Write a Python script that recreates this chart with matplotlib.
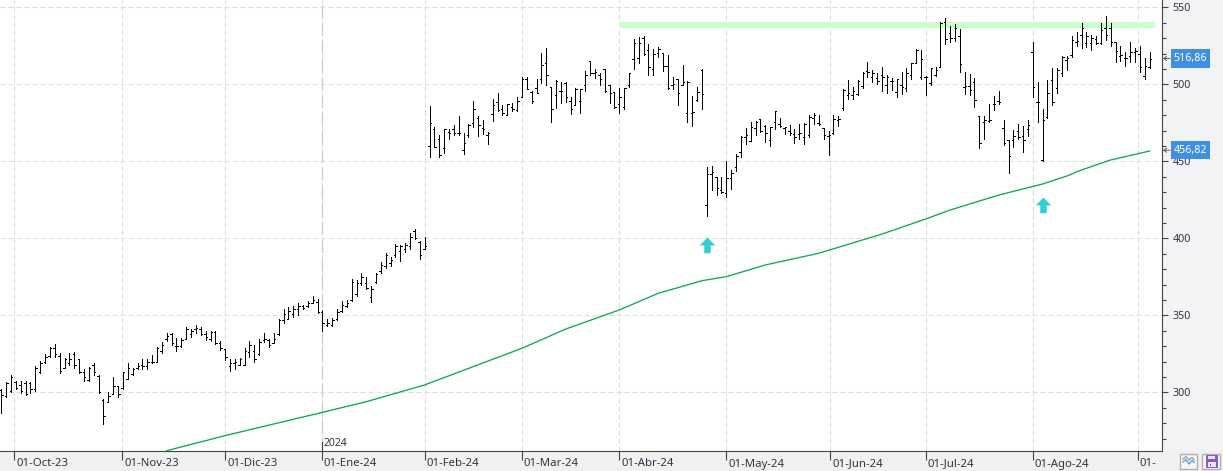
import matplotlib
matplotlib.use("Agg")
import matplotlib.pyplot as plt
from matplotlib.patches import Rectangle
from matplotlib.path import Path
from matplotlib.ticker import MultipleLocator
from matplotlib.transforms import ScaledTranslation

W, H = 1223, 471
plt.rcParams['font.family'] = ['Noto Sans', 'DejaVu Sans']

highs = [302.1, 306.8, 311.2, 307.7, 307.3, 307.3, 306.8, 317.2, 320.7, 325.0,
         329.4, 331.5, 325.5, 322.4, 325.5, 326.3, 322.0, 315.5, 316.8, 319.0,
         311.2, 295.6, 300.3, 309.9, 304.2, 313.3, 319.0, 315.9, 319.4, 321.6,
         321.6, 324.6, 329.4, 332.8, 338.4, 338.9, 335.4, 335.4, 342.3, 341.0,
         343.6, 342.3, 340.2, 340.2, 340.1, 333.6, 327.6, 321.5, 322.0, 322.4,
         328.6, 333.6, 331.0, 334.9, 338.8, 334.5, 338.8, 347.9, 354.0, 355.3,
         356.1, 357.9, 357.0, 359.2, 362.6, 360.5, 353.5, 347.9, 348.3, 354.0,
         359.2, 360.0, 373.5, 373.0, 377.4, 374.8, 369.1, 377.8, 384.7, 390.4,
         387.8, 396.4, 396.0, 396.8, 403.3, 406.4, 398.6, 400.7, 486.0, 472.2,
         467.0, 471.3, 470.9, 473.5, 479.5, 468.7, 474.3, 489.5, 479.5, 477.0,
         469.2, 490.4, 494.3, 486.5, 487.3, 487.8, 491.7, 504.7, 504.7, 495.6,
         503.4, 520.2, 523.7, 498.2, 502.9, 501.6, 501.6, 491.7, 497.7, 496.9,
         508.6, 515.0, 510.3, 507.3, 509.9, 499.9, 495.1, 497.7, 497.7, 507.3,
         529.8, 530.6, 531.5, 526.3, 522.8, 524.1, 520.2, 519.0, 504.7, 503.4,
         512.4, 502.1, 492.5, 498.6, 509.9, 446.6, 447.1, 440.1, 440.1, 450.1,
         444.5, 454.9, 466.6, 471.8, 475.6, 476.5, 477.8, 473.5, 472.6, 483.0,
         478.2, 472.2, 473.5, 470.9, 474.4, 474.8, 480.4, 481.3, 480.4, 471.8,
         469.6, 480.0, 479.5, 496.9, 502.9, 498.6, 502.9, 508.1, 514.6, 509.4,
         507.7, 511.2, 506.0, 504.2, 503.8, 508.1, 510.7, 513.7, 522.8, 522.4,
         505.5, 510.7, 511.6, 540.8, 543.0, 537.7, 539.0, 536.0, 507.9, 506.6,
         504.0, 479.3, 479.3, 487.1, 492.3, 495.7, 476.7, 463.7, 470.2, 474.1,
         472.8, 476.7, 527.4, 501.4, 484.1, 502.7, 510.5, 510.5, 518.3, 518.3,
         531.2, 534.3, 539.9, 533.8, 532.1, 531.7, 539.9, 544.2, 539.9, 527.8,
         524.8, 521.3, 527.4, 523.9, 525.2, 517.0, 521.3]
lows = [286.9, 297.3, 300.3, 302.0, 299.9, 298.6, 299.9, 301.2, 312.5, 319.4,
        323.3, 323.3, 312.9, 315.9, 317.7, 315.9, 312.5, 307.3, 307.7, 311.6,
        299.5, 279.6, 293.8, 299.0, 297.3, 302.1, 308.6, 311.6, 315.0, 315.5,
        315.0, 319.4, 319.8, 325.9, 333.7, 330.6, 326.8, 329.8, 334.5, 336.3,
        338.4, 337.1, 334.1, 333.7, 331.5, 327.6, 321.1, 314.2, 315.5, 317.7,
        317.9, 323.3, 320.0, 324.4, 333.0, 329.3, 331.9, 337.3, 345.3, 347.9,
        349.2, 350.5, 354.0, 355.3, 357.9, 351.8, 340.1, 343.2, 343.2, 347.0,
        352.2, 355.3, 359.2, 362.6, 370.0, 367.4, 358.7, 371.3, 377.8, 380.8,
        382.1, 388.2, 385.6, 391.2, 393.4, 399.9, 386.9, 393.4, 453.1, 459.2,
        453.1, 455.7, 464.8, 467.4, 467.0, 454.9, 466.1, 472.2, 466.6, 467.9,
        461.4, 476.1, 482.6, 480.4, 480.0, 482.6, 482.6, 491.7, 496.9, 488.2,
        494.3, 501.2, 499.5, 475.6, 484.7, 487.8, 488.6, 480.8, 486.9, 481.3,
        495.6, 506.0, 504.2, 499.9, 495.1, 488.2, 484.7, 481.7, 484.3, 498.6,
        510.3, 514.2, 519.0, 506.4, 506.0, 517.6, 509.0, 497.3, 497.3, 486.9,
        499.5, 475.6, 473.1, 489.5, 484.3, 414.6, 431.5, 428.4, 429.8, 427.2,
        432.3, 444.0, 453.1, 461.4, 463.1, 467.4, 469.2, 462.7, 460.1, 471.3,
        472.6, 467.9, 467.0, 462.2, 464.8, 461.4, 466.1, 474.4, 473.9, 464.8,
        454.4, 467.9, 473.0, 483.4, 490.8, 490.4, 493.4, 497.7, 504.7, 501.6,
        500.3, 496.0, 494.7, 496.4, 492.1, 493.8, 495.6, 503.8, 513.7, 503.8,
        493.4, 499.5, 505.5, 511.3, 526.0, 527.8, 528.2, 508.3, 494.0, 493.1,
        485.4, 458.9, 464.6, 475.8, 483.6, 487.5, 460.7, 442.5, 459.4, 464.6,
        456.3, 466.7, 491.8, 475.8, 450.3, 478.0, 486.7, 494.4, 505.7, 509.6,
        517.8, 524.8, 523.9, 524.3, 522.6, 526.0, 526.5, 528.7, 525.2, 514.8,
        515.2, 512.2, 514.8, 514.8, 507.9, 503.5, 510.9]
opens = [301.5, 298.0, 301.0, 307.0, 305.0, 306.0, 306.0, 302.0, 313.0, 320.0,
         324.0, 329.0, 324.0, 316.0, 319.0, 325.0, 322.0, 313.0, 308.0, 318.0,
         311.0, 295.0, 294.0, 299.0, 304.0, 303.0, 309.0, 312.0, 316.0, 318.0,
         317.0, 320.0, 320.0, 327.0, 335.0, 338.0, 330.0, 330.0, 335.0, 338.0,
         341.0, 341.0, 338.0, 335.0, 339.0, 332.0, 328.0, 317.0, 319.0, 318.0,
         318.0, 326.0, 327.0, 325.0, 334.0, 334.0, 332.0, 338.0, 347.0, 348.0,
         351.0, 354.0, 356.0, 356.0, 358.0, 359.0, 352.0, 344.0, 344.0, 348.0,
         353.0, 356.0, 360.0, 364.0, 371.0, 371.0, 362.0, 372.0, 379.0, 382.0,
         384.0, 389.0, 392.0, 393.0, 395.0, 405.0, 398.0, 393.0, 460.0, 471.0,
         464.8, 458.5, 469.0, 471.0, 468.3, 457.5, 467.2, 475.2, 478.2, 471.5,
         467.2, 480.8, 488.6, 483.9, 480.4, 485.6, 483.4, 492.1, 503.8, 495.1,
         497.5, 503.4, 514.2, 498.2, 493.4, 495.6, 501.2, 489.5, 486.7, 489.3,
         499.5, 515.0, 507.3, 506.4, 509.9, 499.5, 495.1, 487.3, 485.2, 499.5,
         516.3, 517.2, 530.0, 522.4, 509.9, 520.7, 520.2, 512.0, 499.7, 503.4,
         499.7, 481.7, 481.7, 490.0, 509.4, 421.5, 441.7, 439.7, 431.5, 429.3,
         439.1, 446.2, 456.2, 466.1, 463.5, 471.8, 477.4, 473.0, 464.0, 475.6,
         474.4, 471.5, 470.0, 467.9, 467.9, 465.7, 467.4, 478.0, 474.8, 471.5,
         466.6, 468.3, 477.0, 484.5, 493.0, 493.0, 493.8, 499.0, 509.0, 505.1,
         504.0, 506.2, 499.7, 502.5, 495.4, 499.5, 497.5, 506.2, 513.7, 504.7,
         504.7, 500.8, 506.2, 511.6, 540.3, 533.4, 530.4, 531.2, 498.3, 499.0,
         501.4, 479.3, 475.8, 476.3, 487.1, 489.2, 471.9, 463.7, 463.9, 470.0,
         466.7, 471.0, 520.9, 488.8, 451.1, 479.0, 502.7, 497.5, 507.2, 515.9,
         519.1, 527.8, 532.1, 526.7, 526.7, 529.5, 527.1, 536.9, 536.9, 527.4,
         518.7, 517.4, 518.7, 521.3, 519.6, 505.7, 511.5]
closes = [298.5, 306.0, 310.0, 303.0, 301.0, 299.0, 302.0, 316.0, 319.0, 323.0,
          329.0, 325.0, 314.0, 322.0, 322.0, 318.0, 313.0, 310.0, 316.0, 313.0,
          300.0, 285.0, 298.0, 304.0, 299.0, 313.0, 316.0, 315.0, 317.0, 317.0,
          320.0, 320.0, 329.0, 331.0, 337.0, 332.0, 330.0, 334.0, 341.0, 340.0,
          342.0, 338.0, 336.0, 339.0, 332.0, 329.0, 323.0, 319.0, 320.0, 322.0,
          327.0, 331.0, 322.0, 333.0, 335.0, 331.0, 335.0, 347.0, 351.0, 353.0,
          354.0, 356.0, 355.0, 358.0, 360.0, 352.0, 345.0, 345.0, 347.0, 352.0,
          357.0, 358.0, 372.0, 371.0, 375.0, 368.0, 367.0, 377.0, 383.0, 389.0,
          386.0, 395.0, 395.0, 396.0, 401.0, 400.0, 389.0, 395.0, 474.8, 459.2,
          454.2, 471.3, 468.3, 468.3, 468.7, 461.8, 473.9, 483.9, 473.7, 470.9,
          468.7, 486.5, 483.4, 481.3, 487.3, 483.9, 489.5, 503.8, 497.3, 489.5,
          494.7, 512.7, 506.2, 483.9, 502.5, 495.6, 491.7, 483.9, 497.3, 496.9,
          506.0, 507.7, 508.3, 503.4, 496.0, 494.3, 485.6, 492.1, 497.7, 507.3,
          526.7, 527.2, 519.8, 511.6, 519.8, 522.8, 512.0, 497.7, 500.3, 494.3,
          501.8, 501.8, 482.1, 495.3, 493.8, 441.7, 443.2, 432.6, 430.4, 439.1,
          442.3, 453.6, 466.1, 467.2, 472.6, 475.9, 469.6, 468.7, 472.6, 482.6,
          473.0, 472.2, 468.7, 465.7, 468.3, 474.4, 479.1, 480.2, 474.4, 467.0,
          467.2, 477.8, 477.4, 496.4, 494.3, 496.0, 502.5, 507.7, 508.3, 507.3,
          502.5, 505.1, 504.7, 502.5, 503.4, 498.6, 507.3, 513.7, 522.4, 516.4,
          504.7, 510.5, 509.4, 539.7, 529.3, 530.0, 536.4, 513.0, 499.0, 496.4,
          489.9, 461.8, 476.9, 476.9, 487.5, 488.4, 461.8, 453.7, 466.5, 465.6,
          463.7, 473.7, 498.3, 488.4, 476.9, 494.2, 488.8, 509.4, 518.0, 517.4,
          528.9, 528.2, 536.9, 531.7, 530.0, 527.1, 535.1, 532.1, 527.8, 521.7,
          519.1, 517.4, 521.3, 521.7, 511.5, 512.2, 516.86]

ma_bars = [34, 46, 66, 75, 87, 107, 116, 127, 135, 144, 149, 157, 168, 181, 190,
           195, 205, 214, 219, 222, 228, 236]
ma_vals = [262.2, 272.0, 287.1, 294.0, 304.9, 328.7, 341.2, 353.6, 364.4, 372.6,
           375.2, 382.8, 390.4, 402.9, 412.7, 418.5, 428.2, 435.4, 440.6, 444.5,
           451.0, 456.82]

month_bars = [2.67, 24.9, 46, 65.9, 87, 107, 127, 149, 170.4, 190, 212, 233.5]
month_labels = ['01-Oct-23', '01-Nov-23', '01-Dic-23', '01-Ene-24', '01-Feb-24', '01-Mar-24',
                '01-Abr-24', '01-May-24', '01-Jun-24', '01-Jul-24', '01-Ago-24', '01-']
price_ticks = [300, 350, 400, 450, 500, 550]
last_values = [516.86, 456.82]
band_low, band_high = 536.7, 540.6
band_bars = [126.9, 237.1]
arrow_bars = [145, 214]
arrow_prices = [396, 422]

fig = plt.figure(figsize=(W / 100, H / 100), dpi=100, facecolor='#f0f0f0')
# right panel is a touch bluer than the strip below
fig.add_artist(Rectangle((1161 / W, 20 / H), 62 / W, 451 / H, transform=fig.transFigure,
                         fc='#f2f3f5', ec='none', zorder=-1))

ax = fig.add_axes([0, 20 / H, 1161.5 / W, 451 / H], facecolor='white')
ax.set_xlim(-0.267, 238.43)
ax.set_ylim(262.0, 554.87)

for s in ['top', 'left']:
    ax.spines[s].set_visible(False)
for s in ['right', 'bottom']:
    ax.spines[s].set_color('#444444')
    ax.spines[s].set_linewidth(0.8)

ax.yaxis.tick_right()
ax.set_yticks(price_ticks)
ax.set_yticklabels([str(p) for p in price_ticks], fontsize=7.7, color='#333344')
ax.yaxis.set_minor_locator(MultipleLocator(10))
ax.tick_params(axis='y', which='major', length=4.3, width=0.8, color='#444444', pad=3.6)
ax.tick_params(axis='y', which='minor', length=2.9, width=0.8, color='#444444')

ax.set_xticks(month_bars)
ax.set_xticklabels(month_labels, fontsize=8.2, color='#333344', ha='left')
ax.tick_params(axis='x', length=6.8, width=0.8, color='#444444', pad=-1.4)
for lab in ax.get_xticklabels():
    lab.set_transform(lab.get_transform() + ScaledTranslation(2 / 100, 0, fig.dpi_scale_trans))

ax.grid(True, which='major', color='#dddddd', linestyle=(0, (4.5, 2.7)), linewidth=0.8)
ax.set_axisbelow(True)

# year change marker
ax.axvline(month_bars[3], color='#cfcfcf', linestyle=(0, (9.4, 3.6)), linewidth=1.0, zorder=1)
ax.plot([month_bars[3], month_bars[3]], [262.0, 268.0], color='#444444', linewidth=0.8, zorder=2)
ax.text(month_bars[3] + 0.35, 266.9, '2024', fontsize=7.5, color='#333344', ha='left', va='center')

ax.add_patch(Rectangle((band_bars[0], band_low), band_bars[1] - band_bars[0], band_high - band_low,
                       fc='#ccffcc', ec='none', zorder=1.5))

ax.plot(ma_bars, ma_vals, color='#0aaa55', linewidth=0.95, zorder=2)

bars = list(range(len(highs)))
lw_bar = 0.7
ax.vlines(bars, lows, highs, color='black', linewidth=lw_bar, zorder=3, antialiased=False)
ax.hlines(opens, [b - 0.3 for b in bars], bars, color='black', linewidth=lw_bar, zorder=3, antialiased=False)
ax.hlines(closes, bars, [b + 0.3 for b in bars], color='black', linewidth=lw_bar, zorder=3, antialiased=False)

up_arrow = Path([(0, 1), (1, 0.02), (0.42, 0.02), (0.42, -1), (-0.42, -1), (-0.42, 0.02), (-1, 0.02), (0, 1)],
                closed=True)
ax.plot(arrow_bars, arrow_prices, linestyle='none', marker=up_arrow, markersize=11.2,
        color='#2ecfd0', markeredgewidth=0, zorder=4)

# overlay in pixel coordinates for the boxes and buttons outside the plot
ov = fig.add_axes([0, 0, 1, 1], facecolor='none')
ov.set_xlim(0, W)
ov.set_ylim(H, 0)
ov.axis('off')

for v, yc in zip(last_values, [58.5, 150.2]):
    ov.add_patch(Rectangle((1171, yc - 9.2), 39, 18.4, fc='#3f8fe6', ec='none'))
    ov.text(1190.5, yc, f'{v:.2f}'.replace('.', ','), fontsize=7.7, color='white', ha='center', va='center')
    ov.annotate('', xy=(1163, yc), xytext=(1170, yc),
                arrowprops=dict(arrowstyle='->,head_length=0.2,head_width=0.15', color='#555555', lw=0.7,
                                shrinkA=0, shrinkB=0))

# buttons
ov.add_patch(Rectangle((1179.5, 453.5), 17, 15.5, fc='#f7f7f7', ec='#b0b0b0', lw=1.0))
ov.plot([1183, 1186, 1189, 1192, 1194], [459, 456.5, 460, 457.5, 460], color='#9aa7b2', lw=1.0)
ov.plot([1183, 1186, 1189, 1192, 1194], [462, 459.5, 464, 460.5, 462.5], color='#5aa5e0', lw=1.0)
ov.add_patch(Rectangle((1201.5, 453.5), 18, 15.5, fc='#f7f7f7', ec='#b0b0b0', lw=1.0))
ov.add_patch(Rectangle((1205.5, 455), 12.5, 12.5, fc='#8a5cc8', ec='none'))
ov.add_patch(Rectangle((1208, 455.5), 7, 3.5, fc='#ece4f7', ec='none'))
ov.add_patch(Rectangle((1207.5, 462), 8.5, 5, fc='#ece4f7', ec='none'))
ov.add_patch(Rectangle((1209.5, 464), 1.5, 1.5, fc='#8a5cc8', ec='none'))

fig.savefig('out.png', dpi=100, facecolor=fig.get_facecolor())
